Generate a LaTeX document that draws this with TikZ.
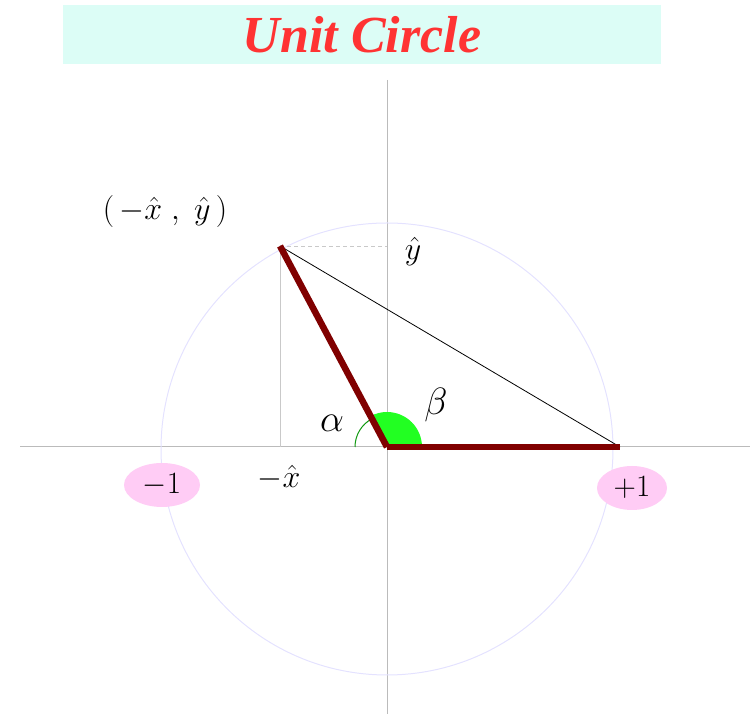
\RequirePackage{fix-cm}
\documentclass[tikz,border=0pt]{standalone}
\usepackage{fontspec}
\newfontfamily\titlefont{Liberation Serif}
\usetikzlibrary{shapes.geometric,calc}
\definecolor{titlebg}{HTML}{DCFDF6}
\definecolor{titlered}{HTML}{FF3333}
\definecolor{circlecol}{HTML}{E4E2FF}
\definecolor{axiscol}{HTML}{BBBBBB}
\definecolor{barred}{HTML}{800000}
\definecolor{angfill}{HTML}{22FF22}
\definecolor{angline}{HTML}{119911}
\definecolor{pinkfill}{HTML}{FFCCF5}
\tikzset{
  axisline/.style={draw=axiscol, line width=1pt},
  guideline/.style={draw=axiscol!80, line width=0.8pt},
  bar/.style={draw=barred, line width=6.5pt},
  lbl/.style={font=\fontsize{32}{38}\selectfont, inner sep=0pt},
  greek/.style={font=\fontsize{38}{44}\selectfont, inner sep=0pt},
  pinklbl/.style={ellipse, fill=pinkfill, minimum width=76pt, minimum height=44pt, inner sep=0pt, font=\fontsize{31}{36}\selectfont}
}
\begin{document}
\begin{tikzpicture}[x=1pt,y=1pt]
\useasboundingbox (0,0) rectangle (750,714);
% title
\node[fill=titlebg, minimum width=598pt, minimum height=59pt, inner sep=0pt,
      font=\titlefont\bfseries\itshape\fontsize{52}{60}\selectfont, text=titlered]
  (title) at (362,679.5) {Unit Circle};
% coordinates
\coordinate (O) at (387,267);
\coordinate (P) at (280,468);
\coordinate (A) at (620,267);
\coordinate (xl) at (20,267);
\coordinate (xr) at (750,267);
\coordinate (yt) at (387,634);
\coordinate (yb) at (387,0);
\coordinate (Pfoot) at (280,267);
\coordinate (Pside) at (387,468);
\coordinate (C) at (387,265);
% axes and circle
\draw[axisline] (xl) -- (xr);
\draw[axisline] (yt) -- (yb);
\draw[circlecol, line width=1pt] (C) circle[radius=226];
% guides
\draw[guideline] (P) -- (Pfoot);
\draw[guideline, dash pattern=on 4pt off 3pt] (P) -- (Pside);
% angles
\fill[angfill] (O) -- ++(35,0) arc[start angle=0, end angle=118.15, radius=35] -- cycle;
\draw[angline, line width=1pt] ($(O)+(-32,0)$) arc[start angle=180, end angle=118.15, radius=32];
% chord
\draw[black, line width=0.8pt] (P) -- (A);
% bars
\draw[bar] (P) -- (O);
\draw[bar] (O) -- (A);
% labels
\node[greek] (alpha) at (332,291) {$\alpha$};
\node[greek] (beta) at (436,309) {$\beta$};
\node[lbl] (mx) at (279,236) {$-\hat{x}$};
\node[lbl] (yh) at (413,462) {$\hat{y}$};
\node[lbl] (pt) at (165,502) {$(\,-\hat{x}\;,\;\hat{y}\,)$};
\node[pinklbl] (m1) at (162,229) {$-1$};
\node[pinklbl, minimum width=70pt] (p1) at (632,226) {$+1$};
\end{tikzpicture}
\end{document}
